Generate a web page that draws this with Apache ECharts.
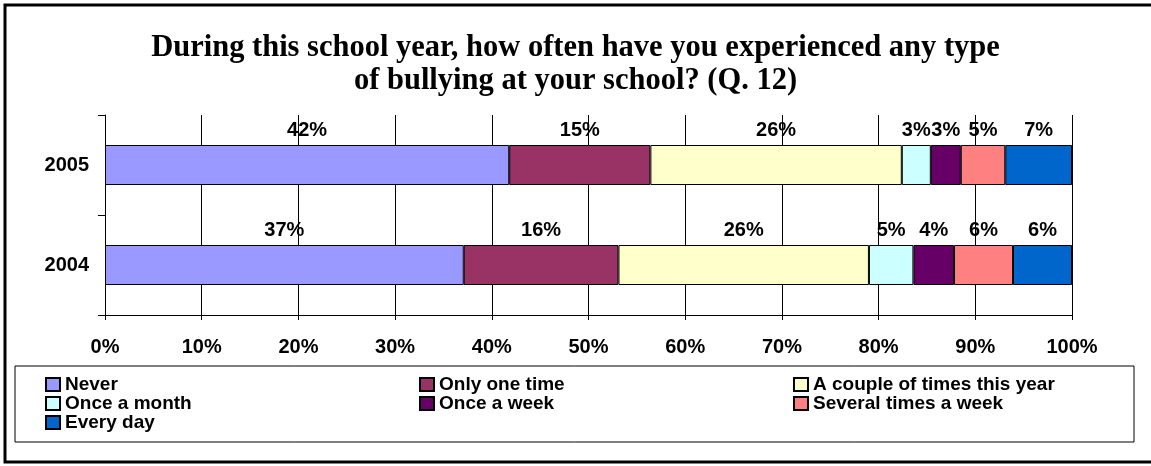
<!DOCTYPE html>
<html>
<head>
<meta charset="utf-8">
<script src="https://cdn.jsdelivr.net/npm/echarts@6/dist/echarts.min.js"></script>
<style>
  html, body { margin: 0; padding: 0; background: #fff; }
  #chart { width: 1151px; height: 466px; }
</style>
</head>
<body>
<div id="chart"></div>
<script>
// categories, bottom to top
var years = ['2004', '2005'];
var seriesNames = ['Never', 'Only one time', 'A couple of times this year',
    'Once a month', 'Once a week', 'Several times a week', 'Every day'];
var seriesColors = ['#9999FF', '#993366', '#FFFFCC', '#CCFFFF', '#660066', '#FF8080', '#0066CC'];
// share of answers (%), [2004, 2005]
var never = [37.1, 41.8];
var onlyOnce = [16.0, 14.6];
var coupleTimes = [25.9, 26.0];
var onceMonth = [4.6, 3.0];
var onceWeek = [4.2, 3.1];
var severalWeek = [6.1, 4.6];
var everyDay = [6.1, 6.9];
var seriesValues = [never, onlyOnce, coupleTimes, onceMonth, onceWeek, severalWeek, everyDay];
var xTicks = [0, 10, 20, 30, 40, 50, 60, 70, 80, 90, 100];

var sansFont = 'Liberation Sans, Arial, sans-serif';

var myChart = echarts.init(document.getElementById('chart'));

var series = seriesNames.map(function (name, i) {
    return {
        name: name,
        type: 'bar',
        stack: 'total',
        barWidth: '40%',
        data: seriesValues[i],
        itemStyle: {
            color: seriesColors[i],
            borderColor: '#000',
            borderWidth: 1
        },
        label: {
            show: true,
            position: 'top',
            distance: 5,
            formatter: function (p) { return Math.round(p.value) + '%'; },
            fontFamily: sansFont,
            fontWeight: 'bold',
            fontSize: 20,
            color: '#000'
        },
        emphasis: { disabled: true }
    };
});

var option = {
    backgroundColor: '#fff',
    animation: false,
    title: {
        text: 'During this school year, how often have you experienced any type\nof bullying at your school? (Q. 12)',
        left: 'center',
        top: 27,
        textStyle: {
            fontFamily: 'Liberation Serif, Times New Roman, serif',
            fontWeight: 'bold',
            fontSize: 30.5,
            lineHeight: 33,
            color: '#000'
        }
    },
    grid: {
        left: 105,
        right: 79,
        top: 115,
        bottom: 151,
        containLabel: false
    },
    legend: {
        left: 45,
        top: 375,
        width: 1200,
        padding: 0,
        itemGap: 0,
        itemWidth: 14,
        itemHeight: 13,
        icon: 'rect',
        selectedMode: false,
        data: seriesNames,
        textStyle: {
            fontFamily: sansFont,
            fontWeight: 'bold',
            fontSize: 19,
            lineHeight: 15,
            color: '#000',
            width: 354,
            overflow: 'truncate'
        }
    },
    xAxis: {
        type: 'value',
        min: 0,
        max: 100,
        interval: 10,
        axisLine: { show: true, lineStyle: { color: '#000', width: 1 } },
        axisTick: { show: true, length: 5, lineStyle: { color: '#000' } },
        splitLine: { show: true, lineStyle: { color: '#000', width: 1 } },
        axisLabel: {
            margin: 22,
            formatter: function (v) { return xTicks.indexOf(v) >= 0 ? v + '%' : ''; },
            fontFamily: sansFont,
            fontWeight: 'bold',
            fontSize: 20,
            color: '#000'
        }
    },
    yAxis: {
        type: 'category',
        data: years,
        axisLine: { show: true, lineStyle: { color: '#000', width: 1 } },
        axisTick: { show: true, length: 7, lineStyle: { color: '#000' } },
        splitLine: { show: false },
        axisLabel: {
            margin: 16,
            fontFamily: sansFont,
            fontWeight: 'bold',
            fontSize: 20,
            color: '#000'
        }
    },
    graphic: [
        {
            type: 'rect',
            shape: { x: 15, y: 366, width: 1119, height: 76 },
            style: { fill: 'none', stroke: '#000', lineWidth: 1 },
            silent: true
        },
        {
            type: 'rect',
            shape: { x: 5, y: 5, width: 1200, height: 457 },
            style: { fill: 'none', stroke: '#000', lineWidth: 3 },
            silent: true
        }
    ],
    series: series
};

myChart.setOption(option);
window.addEventListener('resize', function () {
    myChart.resize();
});
</script>
</body>
</html>
